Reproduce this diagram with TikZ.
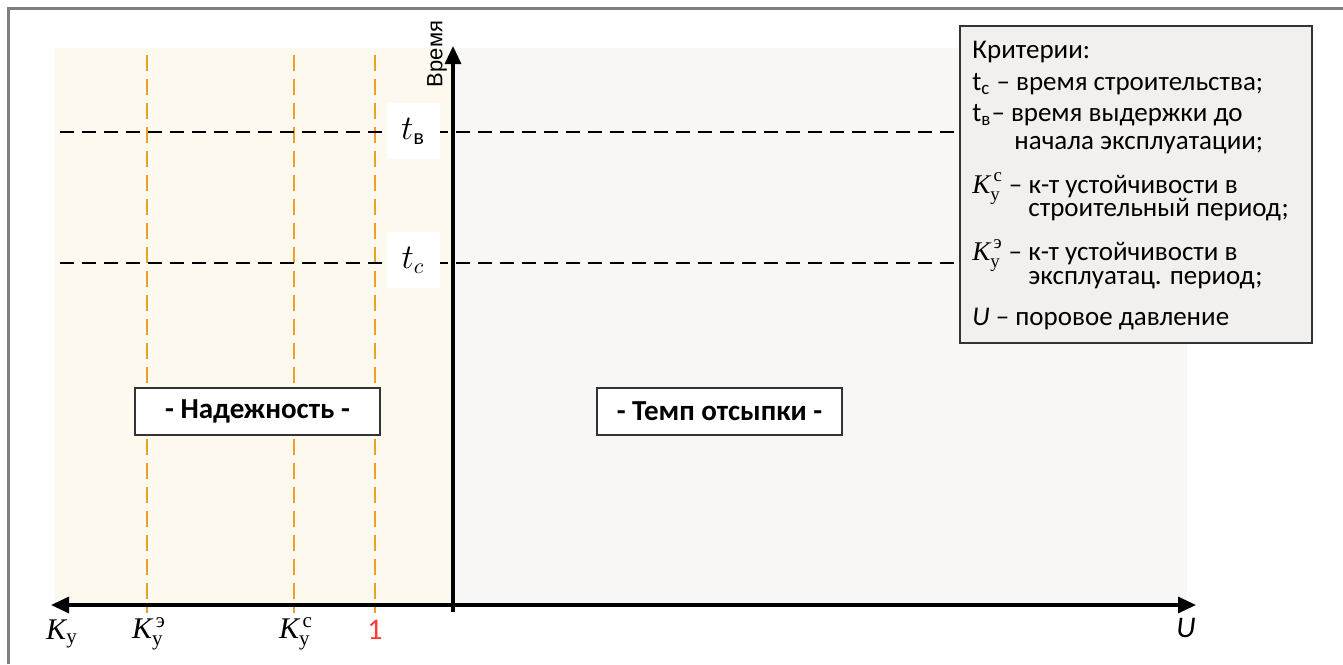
\documentclass[tikz,border=0pt]{standalone}
\usepackage{fontspec}
\usepackage{amsmath}
\setmainfont{Carlito}
\newfontfamily\cyrserif{Liberation Serif}
\newfontfamily\arialfont{Liberation Sans}
\usetikzlibrary{arrows.meta}

\definecolor{creamfill}{HTML}{FEF9EE}
\definecolor{grayfill}{HTML}{F8F7F5}
\definecolor{legfill}{HTML}{F2F0EE}
\definecolor{frameGray}{HTML}{7F7F7F}
\definecolor{dashOrange}{HTML}{E9A12A}
\definecolor{oneRed}{HTML}{FF3B3B}

% italic serif K and the stability coefficient K_y with a superscript
\newcommand{\Kit}{\text{\cyrserif\itshape K}}
\newcommand{\Ky}{\Kit_{\text{\cyrserif у}}}
\newcommand{\Kst}[1]{\Kit_{\text{\cyrserif у}}^{\,\text{\cyrserif #1}}}
% keep a fixed baseline distance even when a line carries superscripts
\newcommand{\tightlines}{\lineskiplimit=-50pt\relax}

\tikzset{
  axis/.style={line width=1.6pt, -{Triangle[length=9pt,width=8pt]}},
  timeline/.style={line width=1pt, dash pattern=on 7pt off 4pt},
  kline/.style={line width=0.8pt, dashOrange, dash pattern=on 8pt off 4pt},
  tlabel/.style={fill=white, minimum width=26.5pt, minimum height=28pt, inner sep=0pt,
                 font=\fontsize{16}{18}\selectfont},
  regionbox/.style={draw=black!80, line width=0.6pt, fill=white, minimum width=122.5pt,
                    minimum height=23.5pt, inner sep=0pt, font=\bfseries\fontsize{14.5}{16}\selectfont},
  legtext/.style={anchor=base west, inner sep=0pt, align=left, font=\fontsize{13.5}{15}\selectfont},
  axlabel/.style={inner sep=0pt, font=\fontsize{15}{17}\selectfont},
}

\begin{document}
\begin{tikzpicture}[x=0.5pt, y=-0.5pt]
  \useasboundingbox (0,0) rectangle (1343,664);
  \fill[white] (0,0) rectangle (1343,664);

  % outer frame (top and left edges)
  \draw[frameGray, line width=1.5pt] (8,664) -- (8,8) -- (1343,8);

  % regions
  \fill[creamfill] (55,48) rectangle (453,605);
  \fill[grayfill] (453,48) rectangle (1187,605);

  % named points of the axes
  \coordinate (O) at (453,605);
  \coordinate (Otail) at (453,612);
  \coordinate (Ytop) at (453,46);
  \coordinate (Xleft) at (51,605);
  \coordinate (Xright) at (1196,605);

  % stability coefficient levels
  \coordinate (ke1) at (147,55);  \coordinate (ke2) at (147,613);
  \coordinate (kc1) at (294,55);  \coordinate (kc2) at (294,613);
  \coordinate (k11) at (375,55);  \coordinate (k12) at (375,613);
  \draw[kline] (ke1) -- (ke2);
  \draw[kline] (kc1) -- (kc2);
  \draw[kline] (k11) -- (k12);

  % time levels
  \coordinate (tv1) at (60,132);  \coordinate (tv2) at (962,132);
  \coordinate (tc1) at (60,263);  \coordinate (tc2) at (962,263);
  \draw[timeline] (tv1) -- (tv2);
  \draw[timeline] (tc1) -- (tc2);

  \node[tlabel] (tv) at (413,131) {$t_{\text{в}}$};
  \node[tlabel] (tc) at (413,260) {$t_c$};

  % axes
  \draw[axis] (O) -- (Xright);
  \draw[axis] (O) -- (Xleft);
  \draw[axis] (Otail) -- (Ytop);

  \node[rotate=90, inner sep=0pt, font=\arialfont\fontsize{11}{13}\selectfont] (vremya) at (437,54) {Время};

  % axis labels
  \node[axlabel] (Ky) at (62,634) {$\Ky$};
  \node[axlabel] (Kye) at (149,634) {$\Kst{э}$};
  \node[axlabel] (Kyc) at (296,634) {$\Kst{с}$};
  \node[axlabel, text=oneRed] (one) at (375,630) {1};
  \node[axlabel, font=\itshape\fontsize{15}{17}\selectfont] (U) at (1186,628) {U};

  % region titles
  \node[regionbox] (reliab) at (257.5,411.5) {- Надежность -};
  \node[regionbox] (rate) at (719.5,411.5) {- Темп отсыпки -};

  % legend (two-line entries sit on the baseline of their last line)
  \node[draw=black!80, line width=0.8pt, fill=legfill, minimum width=176pt, minimum height=158.5pt,
        inner sep=0pt] (legend) at (1136,184.5) {};
  \node[legtext] (l1) at (972,58) {Критерии:};
  \node[legtext] (l2) at (972,90) {t\textsubscript{с} – время строительства;};
  \node[legtext, font=\fontsize{13.5}{14}\selectfont\tightlines] (l3) at (972,149)
    {t\textsubscript{в}– время выдержки до\\\hspace*{21pt}начала эксплуатации;};
  \node[legtext, font=\fontsize{13.5}{11.5}\selectfont\tightlines] (l5) at (972,216)
    {$\Kst{с}$ – к-т устойчивости в\\\hspace*{28pt}строительный период;};
  \node[legtext, font=\fontsize{13.5}{12}\selectfont\tightlines] (l7) at (972,284)
    {$\Kst{э}$ – к-т устойчивости в\\\hspace*{28pt}эксплуатац. период;};
  \node[legtext] (l9) at (972,325) {\textit{U} – поровое давление};
\end{tikzpicture}
\end{document}
